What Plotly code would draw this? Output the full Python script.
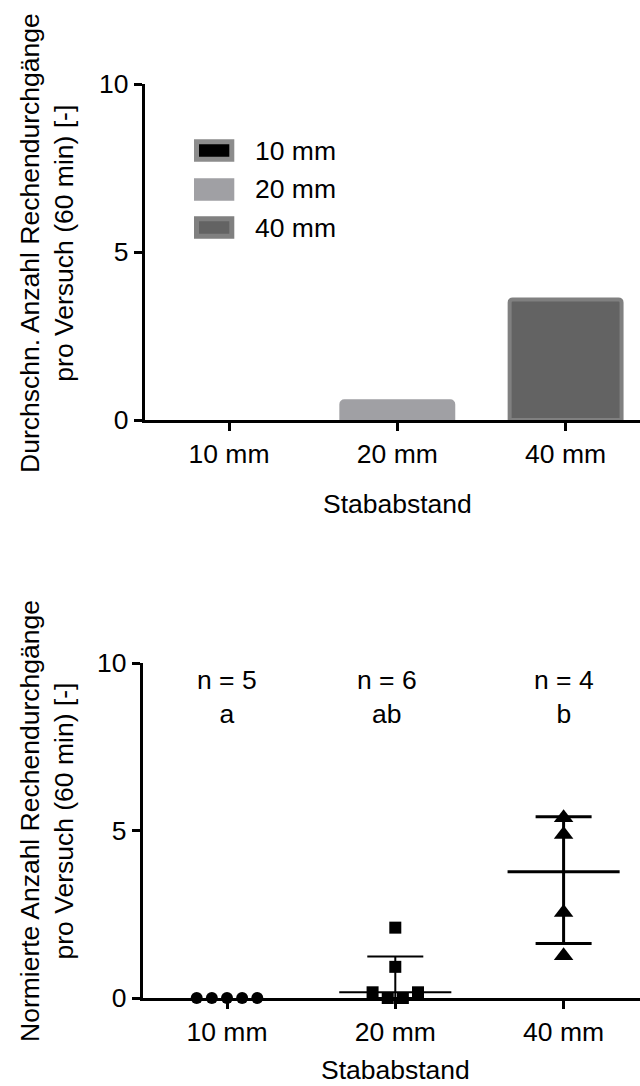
import plotly.graph_objects as go

# ---------------- data ----------------
categories = ["10 mm", "20 mm", "40 mm"]
bar_means = [0.0, 0.56, 3.59]

pts_10 = [0.0, 0.0, 0.0, 0.0, 0.0]
pts_20 = [2.10, 0.93, 0.17, 0.17, 0.0, 0.0]
pts_40 = [5.38, 4.88, 2.55, 1.26]

medians = [0.0, 0.17, 3.77]
upper_whisker = [0.0, 1.24, 5.41]
lower_whisker = [0.0, 0.0, 1.63]

n_labels = ["n = 5", "n = 6", "n = 4"]
sig_labels = ["a", "ab", "b"]

y_ticks = [0, 5, 10]
y_title_top = "Durchschn. Anzahl Rechendurchgänge<br>pro Versuch (60 min) [-]"
y_title_bot = "Normierte Anzahl Rechendurchgänge<br>pro Versuch (60 min) [-]"
x_title = "Stababstand"

# ---------------- style ----------------
W, H = 640, 1086
FONT = "Liberation Sans, Arial, Helvetica, sans-serif"
FS = 26.5
bar_fill = ["#000000", "#a0a0a4", "#636363"]
bar_line = ["#8c8c8c", "#a0a0a4", "#808080"]
symbols = ["circle", "square", "triangle-up"]
sizes = [12, 12, 17]
err_thick = [3, 2, 3]


def px_x(px):
    return px / W


def px_y(py):
    return 1 - py / H


def spread(values, tol=0.3, step=0.09):
    """symmetric horizontal spread of near-equal values (scatter dot plot)"""
    order = sorted(range(len(values)), key=lambda i: values[i])
    clusters = []
    for i in order:
        if clusters and values[i] - values[clusters[-1][0]] <= tol:
            clusters[-1].append(i)
        else:
            clusters.append([i])
    off = [0.0] * len(values)
    for c in clusters:
        n = len(c)
        slots = sorted([k - (n - 1) / 2 for k in range(n)], key=lambda s: (abs(s), s))
        for i, s in zip(c, slots):
            off[i] = s * step
    return off


fig = go.Figure()

# ---------- top: bar chart ----------
fig.add_trace(go.Bar(
    x=list(range(len(categories))), y=bar_means, width=0.665,
    marker=dict(color=bar_fill, line=dict(color=bar_line, width=[0, 4, 4]), cornerradius=3),
    xaxis="x", yaxis="y", showlegend=False,
))

# ---------- bottom: scatter dot plot ----------
groups = [pts_10, pts_20, pts_40]
for gi, vals in enumerate(groups):
    off = spread(vals)
    fig.add_trace(go.Scatter(
        x=[gi + o for o in off], y=vals, mode="markers",
        marker=dict(symbol=symbols[gi], size=sizes[gi], color="black"),
        cliponaxis=False, xaxis="x2", yaxis="y2", showlegend=False,
    ))
    if upper_whisker[gi] <= 0:
        continue  # median and spread lie on the axis line
    fig.add_trace(go.Scatter(
        x=[gi], y=[medians[gi]], mode="markers",
        marker=dict(size=1, color="rgba(0,0,0,0)"),
        error_x=dict(type="data", array=[0.333], symmetric=True, color="black",
                     thickness=err_thick[gi], width=0),
        error_y=dict(type="data", array=[upper_whisker[gi] - medians[gi]],
                     arrayminus=[medians[gi] - lower_whisker[gi]], symmetric=False,
                     color="black", thickness=err_thick[gi], width=28),
        xaxis="x2", yaxis="y2", showlegend=False, hoverinfo="skip",
    ))

axis_common = dict(showline=True, linewidth=3, linecolor="black", ticks="outside",
                   ticklen=8, tickwidth=3, tickcolor="black", showgrid=False,
                   zeroline=False, automargin=False,
                   tickfont=dict(family=FONT, size=FS, color="black"))

top_L = 144.85
bot_L = 142.85
fig.update_layout(
    template="none",
    width=W, height=H, margin=dict(l=0, r=0, t=0, b=0, pad=0),
    paper_bgcolor="white", plot_bgcolor="white",
    font=dict(family=FONT, size=FS, color="black"),
    xaxis=dict(domain=[px_x(top_L), 1], range=[-0.5, (W - 229) / 168.3],
               tickvals=list(range(3)), ticktext=categories, anchor="y", **axis_common),
    yaxis=dict(domain=[px_y(420), px_y(84)], range=[0, 10], tickvals=y_ticks,
               anchor="x", **axis_common),
    xaxis2=dict(domain=[px_x(bot_L), 1], range=[-0.5, (W - 227) / 168.3],
                tickvals=list(range(3)), ticktext=categories, anchor="y2", **axis_common),
    yaxis2=dict(domain=[px_y(998), px_y(663)], range=[0, 10], tickvals=y_ticks,
                anchor="x2", **axis_common),
)

ann = []
# y titles
ann.append(dict(text=y_title_top, x=px_x(47), y=px_y(243), xref="paper", yref="paper",
                textangle=-90, showarrow=False, xanchor="center", yanchor="middle"))
ann.append(dict(text=y_title_bot, x=px_x(47), y=px_y(821), xref="paper", yref="paper",
                textangle=-90, showarrow=False, xanchor="center", yanchor="middle"))
# x titles
ann.append(dict(text=x_title, x=1, y=px_y(504), xref="x", yref="paper",
                showarrow=False, xanchor="center", yanchor="middle"))
ann.append(dict(text=x_title, x=1, y=0, xref="x2", yref="paper", borderpad=0,
                showarrow=False, xanchor="center", yanchor="bottom"))
# n and significance labels
for i in range(3):
    ann.append(dict(text=n_labels[i] + "<br>" + sig_labels[i], x=i, y=10, xref="x2", yref="y2",
                    showarrow=False, xanchor="center", yanchor="top",
                    xshift=-8 if i == 1 else 0))

# custom legend (large swatches as in the original)
rows = [150.5, 189.5, 227.5]
shapes = []
for i, r in enumerate(rows):
    shapes.append(dict(type="rect", xref="paper", yref="paper",
                       x0=px_x(196.5), x1=px_x(231.8), y0=px_y(r + 8.7), y1=px_y(r - 8.7),
                       line=dict(color=bar_line[i], width=5), fillcolor=bar_fill[i]))
    ann.append(dict(text=categories[i], x=px_x(253), y=px_y(r), xref="paper", yref="paper",
                    showarrow=False, xanchor="left", yanchor="middle"))

fig.update_layout(annotations=ann, shapes=shapes)
fig.write_html("out.html", config={"displayModeBar": False},
               post_script="document.body.style.margin='0';document.body.style.overflow='hidden';")
